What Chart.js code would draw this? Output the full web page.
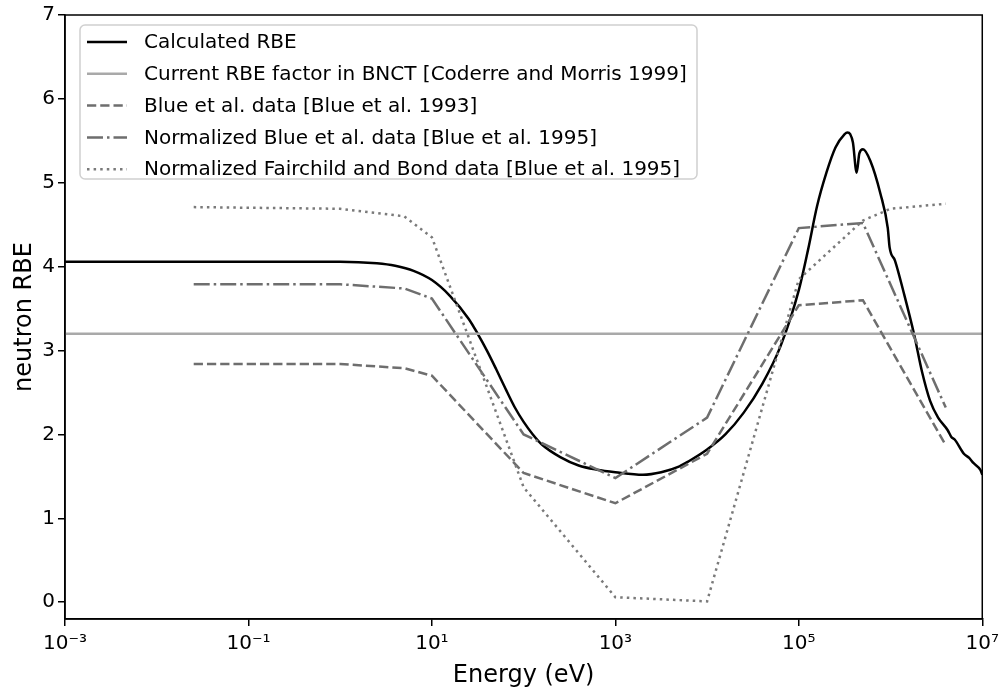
<!DOCTYPE html>
<html>
<head>
<meta charset="utf-8">
<script src="https://cdn.jsdelivr.net/npm/chart.js@4"></script>
<style>
  html, body { margin: 0; padding: 0; background: #fff; }
  canvas { display: block; }
</style>
</head>
<body>
<canvas id="rbeChart" width="1005" height="694"></canvas>
<script>
// Calculated RBE curve (energy in eV)
const calcEnergy = [1e-3, 0.1, 1, 2.51, 3.98, 6.31, 10, 15.8, 25.1, 31.6, 39.8, 50.1, 63.1, 79.4, 100, 126, 158,
  251, 398, 631, 1000, 2000, 3160, 5000, 6310, 1e4, 1.58e4, 2.51e4, 3.98e4, 6.31e4, 1e5, 1.26e5, 1.58e5,
  2e5, 2.51e5, 3.16e5, 3.39e5, 3.63e5, 3.89e5, 4.27e5, 4.57e5, 5.01e5, 6.03e5, 7.76e5, 9.33e5, 9.77e5,
  1.12e6, 1.4e6, 1.8e6, 2.2e6, 2.7e6, 3.3e6, 4.2e6, 4.6e6, 5.0e6, 6.3e6, 7.2e6, 8e6, 9.5e6, 1e7];
const calcRBE = [4.06, 4.06, 4.06, 4.04, 4.01, 3.95, 3.84, 3.65, 3.38, 3.2, 3.0, 2.78, 2.55, 2.33, 2.15, 2.0, 1.88,
  1.73, 1.63, 1.58, 1.55, 1.52, 1.55, 1.62, 1.68, 1.82, 2.0, 2.26, 2.6, 3.05, 3.72, 4.2, 4.72,
  5.12, 5.42, 5.58, 5.6, 5.58, 5.48, 5.12, 5.35, 5.40, 5.26, 4.87, 4.46, 4.23,
  4.07, 3.68, 3.2, 2.75, 2.4, 2.2, 2.05, 1.97, 1.94, 1.77, 1.72, 1.66, 1.58, 1.52];

// current BNCT factor
const currentEnergy = [1e-3, 1e7];
const currentRBE = [3.2, 3.2];

// Blue et al. 1993
const blue93Energy = [0.0253, 1, 5, 10, 100, 1000, 1e4, 1e5, 5e5, 4e6];
const blue93RBE = [2.84, 2.84, 2.79, 2.70, 1.54, 1.18, 1.77, 3.54, 3.6, 1.87];

// Normalized Blue et al. 1995
const blue95Energy = [0.0253, 1, 5, 10, 100, 1000, 1e4, 1e5, 5e5, 4e6];
const blue95RBE = [3.79, 3.79, 3.74, 3.62, 2.0, 1.48, 2.2, 4.46, 4.52, 2.32];

// Normalized Fairchild and Bond
const fbEnergy = [0.0253, 1, 5, 10, 100, 1000, 1e4, 1e5, 5e5, 1e6, 4e6];
const fbRBE = [4.71, 4.69, 4.6, 4.35, 1.37, 0.06, 0.01, 3.85, 4.55, 4.69, 4.75];

const xTickPowers = [-3, -1, 1, 3, 5, 7];
const yTicks = [0, 1, 2, 3, 4, 5, 6, 7];

const labels = [
  'Calculated RBE',
  'Current RBE factor in BNCT [Coderre and Morris 1999]',
  'Blue et al. data [Blue et al. 1993]',
  'Normalized Blue et al. data [Blue et al. 1995]',
  'Normalized Fairchild and Bond data [Blue et al. 1995]'
];

const FONT = 'DejaVu Sans';
const sup = { '-': '\u207B', '0': '\u2070', '1': '\u00B9', '2': '\u00B2', '3': '\u00B3', '4': '\u2074', '5': '\u2075', '6': '\u2076', '7': '\u2077', '8': '\u2078', '9': '\u2079' };
const toSup = s => String(s).split('').map(c => sup[c]).join('');

const pts = (xs, ys) => xs.map((x, i) => ({ x: x, y: ys[i] }));

const styles = [
  { borderColor: '#000000', borderWidth: 2.5, borderDash: [] },
  { borderColor: '#a9a9a9', borderWidth: 2.5, borderDash: [] },
  { borderColor: '#6e6e6e', borderWidth: 2.5, borderDash: [9.25, 4] },
  { borderColor: '#6e6e6e', borderWidth: 2.5, borderDash: [16, 4, 2.5, 4] },
  { borderColor: '#7a7a7a', borderWidth: 2.5, borderDash: [2.5, 4.1] }
];

const seriesData = [
  pts(calcEnergy, calcRBE),
  pts(currentEnergy, currentRBE),
  pts(blue93Energy, blue93RBE),
  pts(blue95Energy, blue95RBE),
  pts(fbEnergy, fbRBE)
];

// legend inside the plot, upper left (matplotlib style)
const insideLegend = {
  id: 'insideLegend',
  afterDatasetsDraw(chart) {
    const { ctx, chartArea } = chart;
    const x0 = chartArea.left + 15, y0 = chartArea.top + 10;
    const w = 617, h = 154;
    ctx.save();
    ctx.beginPath();
    ctx.roundRect(x0, y0, w, h, 5);
    ctx.fillStyle = 'rgba(255,255,255,0.8)';
    ctx.fill();
    ctx.strokeStyle = '#d0d0d0';
    ctx.lineWidth = 1.5;
    ctx.stroke();
    ctx.font = '20px "' + FONT + '"';
    ctx.textBaseline = 'middle';
    labels.forEach((lab, i) => {
      const y = y0 + 17 + i * 31.8;
      const st = styles[i];
      ctx.beginPath();
      ctx.setLineDash(st.borderDash);
      ctx.strokeStyle = st.borderColor;
      ctx.lineWidth = st.borderWidth;
      ctx.moveTo(x0 + 7, y);
      ctx.lineTo(x0 + 47, y);
      ctx.stroke();
      ctx.setLineDash([]);
      ctx.fillStyle = '#000';
      ctx.fillText(lab, x0 + 64, y + 1);
    });
    ctx.restore();
  }
};

// full box around the axes
const frame = {
  id: 'frame',
  afterDraw(chart) {
    const { ctx, chartArea: a } = chart;
    ctx.save();
    ctx.strokeStyle = '#000';
    ctx.lineWidth = 1.5;
    ctx.strokeRect(a.left, a.top, a.right - a.left, a.bottom - a.top);
    ctx.restore();
  }
};

const ctx = document.getElementById('rbeChart').getContext('2d');
new Chart(ctx, {
  type: 'scatter',
  data: {
    datasets: seriesData.map((d, i) => ({
      label: labels[i],
      data: d,
      showLine: true,
      pointRadius: 0,
      fill: false,
      cubicInterpolationMode: i === 0 ? 'monotone' : 'default',
      tension: 0,
      borderColor: styles[i].borderColor,
      borderWidth: styles[i].borderWidth,
      borderDash: styles[i].borderDash,
      order: 5 - i
    }))
  },
  options: {
    responsive: false,
    animation: false,
    devicePixelRatio: 1,
    layout: { padding: { top: 14, right: 20, left: 0, bottom: 0 } },
    plugins: { legend: { display: false }, tooltip: { enabled: false } },
    scales: {
      x: {
        type: 'logarithmic',
        min: 1e-3,
        max: 1e7,
        afterBuildTicks: s => { s.ticks = xTickPowers.map(p => ({ value: Math.pow(10, p) })); },
        afterFit: s => { s.height = 75; },
        grid: { drawOnChartArea: false, drawTicks: true, tickLength: 7, color: '#000', lineWidth: 1.5 },
        border: { display: true, color: '#000', width: 1.5 },
        ticks: {
          autoSkip: false,
          maxRotation: 0,
          color: '#000',
          padding: 6,
          font: { family: FONT, size: 20 },
          callback: v => '10' + toSup(Math.round(Math.log10(v)))
        },
        title: { display: true, text: 'Energy (eV)', color: '#000', font: { family: FONT, size: 24 }, padding: { top: 0, bottom: 4 } }
      },
      y: {
        min: -0.2,
        max: 7,
        afterBuildTicks: s => { s.ticks = yTicks.map(v => ({ value: v })); },
        afterFit: s => { s.width = 65; },
        grid: { drawOnChartArea: false, drawTicks: true, tickLength: 7, color: '#000', lineWidth: 1.5 },
        border: { display: true, color: '#000', width: 1.5 },
        ticks: { color: '#000', padding: 3, font: { family: FONT, size: 20 } },
        title: { display: true, text: 'neutron RBE', color: '#000', font: { family: FONT, size: 24 }, padding: { top: 10, bottom: 0 } }
      }
    }
  },
  plugins: [insideLegend, frame]
});
</script>
</body>
</html>
